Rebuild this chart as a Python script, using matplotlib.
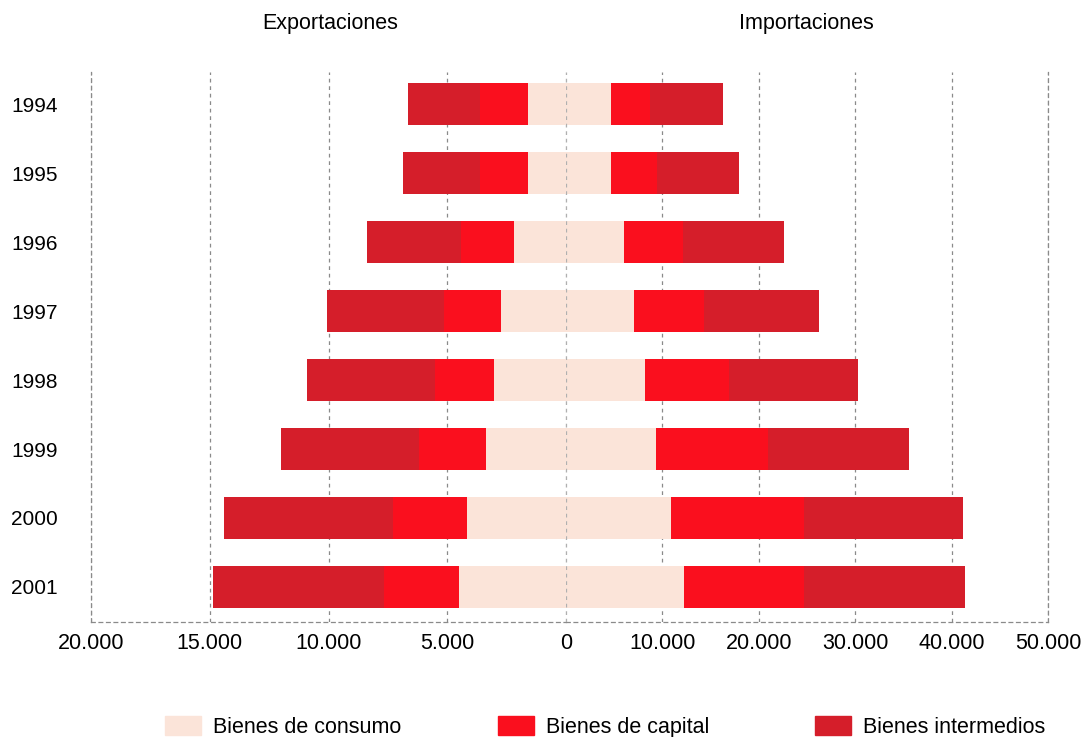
import matplotlib.pyplot as plt
from matplotlib.ticker import FuncFormatter
from matplotlib.patches import Patch

plt.rcParams['font.family'] = ['Liberation Sans', 'DejaVu Sans']

years = ["1994", "1995", "1996", "1997", "1998", "1999", "2000", "2001"]
# exportaciones
exp_consumo = [1610, 1610, 2180, 2750, 3020, 3370, 4160, 4490]
exp_capital = [2010, 2010, 2250, 2380, 2500, 2810, 3120, 3170]
exp_intermedios = [3020, 3260, 3940, 4950, 5380, 5840, 7130, 7190]
# importaciones
imp_consumo = [4670, 4670, 6050, 7090, 8200, 9310, 10890, 12270]
imp_capital = [4050, 4740, 6120, 7230, 8750, 11680, 13800, 12450]
imp_intermedios = [7600, 8540, 10480, 11900, 13380, 14600, 16460, 16670]

series = ["Bienes de consumo", "Bienes de capital", "Bienes intermedios"]
colors = ["#fbe4d9", "#fa0f1e", "#d51e2a"]

W, H = 1081, 737
fig = plt.figure(figsize=(W / 100, H / 100), dpi=100)
bottom = 1 - 622 / H
height = 550 / H
ax_l = fig.add_axes([91 / W, bottom, 475 / W, height])
ax_r = fig.add_axes([566 / W, bottom, 482 / W, height], sharey=ax_l)

y = list(range(len(years)))
bh = 0.61
grid_kw = dict(color="#8a8a8a", linestyle=(0, (3, 3)), linewidth=0.9)

def stack(ax, parts):
    left = [0] * len(years)
    for vals, c in zip(parts, colors):
        ax.barh(y, vals, left=left, height=bh, color=c, zorder=2)
        left = [a + b for a, b in zip(left, vals)]

stack(ax_l, [exp_consumo, exp_capital, exp_intermedios])
stack(ax_r, [imp_consumo, imp_capital, imp_intermedios])

fmt = FuncFormatter(lambda v, p: f"{int(v):,}".replace(",", "."))
ax_l.set_xlim(20000, 0)
ax_r.set_xlim(0, 50000)
ax_l.set_xticks([20000, 15000, 10000, 5000, 0])
ax_r.set_xticks([10000, 20000, 30000, 40000, 50000])
for ax in (ax_l, ax_r):
    ax.xaxis.set_major_formatter(fmt)
    ax.tick_params(axis="x", length=0, pad=8, labelsize=15.5)
    ax.grid(axis="x", zorder=0, **grid_kw)
    ax.set_axisbelow(True)
    for s in ax.spines.values():
        s.set_visible(False)
    ax.spines["bottom"].set_visible(True)
    ax.spines["bottom"].set(**grid_kw)

ax_l.spines["left"].set_visible(True)
ax_l.spines["left"].set(**grid_kw)
ax_r.spines["right"].set_visible(True)
ax_r.spines["right"].set(**grid_kw)
ax_r.axvline(0, color="#b0b0b0", linestyle=(0, (3, 3)), linewidth=0.9, zorder=3)

ax_l.set_ylim(7.51, -0.47)
ax_l.set_yticks(y, years)
ax_l.tick_params(axis="y", length=0, pad=24, labelsize=15)
ax_r.tick_params(axis="y", length=0, labelleft=False)

fig.text(330 / W, 1 - 24 / H, "Exportaciones", ha="center", va="center", fontsize=15.5)
fig.text(806 / W, 1 - 24 / H, "Importaciones", ha="center", va="center", fontsize=15.5)

# leyenda: tres entradas colocadas a mano
for x0, lab, c in zip([165, 498, 815], series, colors):
    fig.legend(handles=[Patch(color=c)], labels=[lab], loc="center left",
               bbox_to_anchor=(x0 / W, 1 - 727 / H), frameon=False, fontsize=15.5,
               handlelength=1.67, handleheight=0.95, handletextpad=0.56,
               borderpad=0, borderaxespad=0)

fig.savefig("out.png", dpi=100)
